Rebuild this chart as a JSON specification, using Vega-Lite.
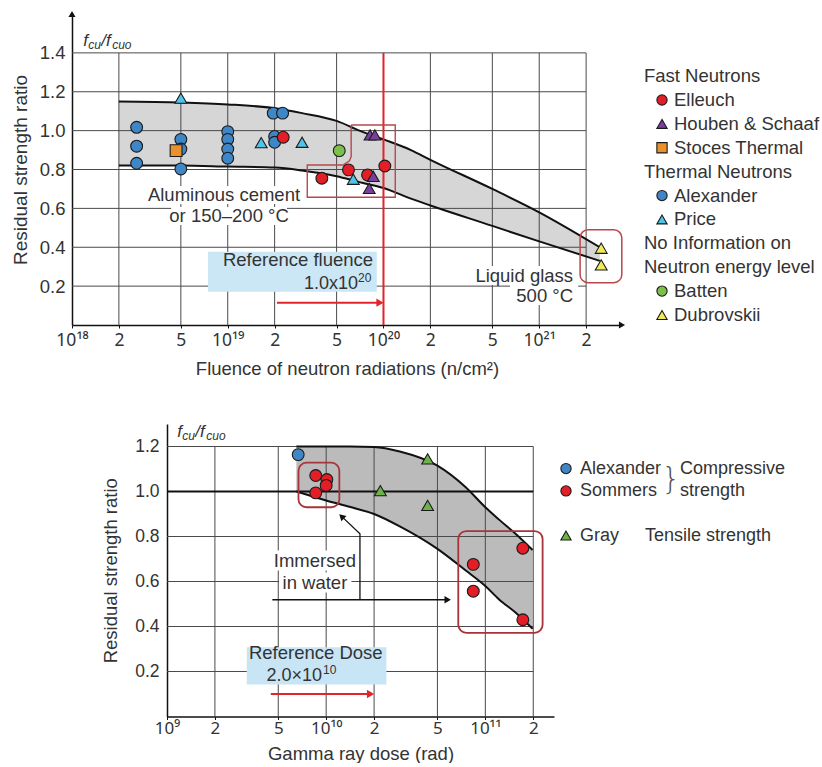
{
  "$schema": "https://vega.github.io/schema/vega-lite/v6.json",
  "padding": {"left": 11, "top": 10, "right": 0, "bottom": 0},
  "background": "white",
  "config": {"view": {"stroke": null}, "font": "Liberation Sans", "text": {"font": "Liberation Sans", "color": "#333"}},
  "resolve": {"scale": {"color": "independent", "shape": "independent"}},
  "spacing": 45,
  "datasets": {
    "top_band": [
      {"x": 2e18, "lo": 0.82, "hi": 1.15},
      {"x": 5e18, "lo": 0.82, "hi": 1.145},
      {"x": 1e19, "lo": 0.815, "hi": 1.135},
      {"x": 2e19, "lo": 0.81, "hi": 1.115},
      {"x": 3e19, "lo": 0.795, "hi": 1.09},
      {"x": 5e19, "lo": 0.765, "hi": 1.05},
      {"x": 7e19, "lo": 0.735, "hi": 1.0},
      {"x": 1e20, "lo": 0.705, "hi": 0.955},
      {"x": 1.5e20, "lo": 0.65, "hi": 0.9},
      {"x": 2e20, "lo": 0.615, "hi": 0.85},
      {"x": 5e20, "lo": 0.51, "hi": 0.7},
      {"x": 1e21, "lo": 0.43, "hi": 0.58},
      {"x": 2.45e21, "lo": 0.33, "hi": 0.4}
    ],
    "top_gx": [
      {"x": 2e18, "y": 0, "y2": 1.4}, {"x": 5e18, "y": 0, "y2": 1.4}, {"x": 1e19, "y": 0, "y2": 1.4},
      {"x": 2e19, "y": 0, "y2": 1.4}, {"x": 5e19, "y": 0, "y2": 1.4}, {"x": 1e20, "y": 0, "y2": 1.4},
      {"x": 2e20, "y": 0, "y2": 1.4}, {"x": 5e20, "y": 0, "y2": 1.4}, {"x": 1e21, "y": 0, "y2": 1.4},
      {"x": 2e21, "y": 0, "y2": 1.4}
    ],
    "top_gy": [
      {"y": 0.2, "x": 1e18, "x2": 2e21}, {"y": 0.4, "x": 1e18, "x2": 2e21}, {"y": 0.6, "x": 1e18, "x2": 2e21},
      {"y": 0.8, "x": 1e18, "x2": 2e21}, {"y": 1.0, "x": 1e18, "x2": 2e21}, {"y": 1.2, "x": 1e18, "x2": 2e21},
      {"y": 1.4, "x": 1e18, "x2": 2e21}
    ],
    "top_redline": [{"x": 1e20, "y": 0, "y2": 1.4}],
    "top_refbox": [{"x": 7.47e18, "x2": 9.06e19, "y": 0.171, "y2": 0.377}],
    "top_white": [
      {"x": 2.94e18, "x2": 3.09e19, "y": 0.623, "y2": 0.715},
      {"x": 4.33e18, "x2": 2.4e19, "y": 0.515, "y2": 0.607},
      {"x": 3.44e20, "x2": 1.78e21, "y": 0.206, "y2": 0.304},
      {"x": 6.5e20, "x2": 1.78e21, "y": 0.103, "y2": 0.206}
    ],
    "top_outline": [
      {"i": 0, "x": 6.2e19, "y": 1.029},
      {"i": 1, "x": 1.19e20, "y": 1.029},
      {"i": 2, "x": 1.19e20, "y": 0.657},
      {"i": 3, "x": 3.24e19, "y": 0.657},
      {"i": 4, "x": 3.24e19, "y": 0.823},
      {"i": 5, "x": 5.5e19, "y": 0.823},
      {"i": 6, "x": 6.05e19, "y": 0.845},
      {"i": 7, "x": 6.2e19, "y": 0.866},
      {"i": 8, "x": 6.2e19, "y": 1.029}
    ],
    "top_glassbox": [{"x": 1.83e21, "x2": 3.39e21, "y": 0.218, "y2": 0.49}],
    "top_text_c": [
      {"x": 9.46e18, "y": 0.669, "label": "Aluminous cement"},
      {"x": 1.02e19, "y": 0.561, "label": "or 150–200 °C"}
    ],
    "top_text_r": [
      {"x": 8.57e19, "y": 0.332, "label": "Reference fluence"},
      {"x": 1.65e21, "y": 0.252, "label": "Liquid glass"},
      {"x": 1.65e21, "y": 0.149, "label": "500 °C"}
    ],
    "top_sup": [{"x": 8.57e19, "y": 0.21, "base": "1.0x10", "sup": "20"}],
    "top_arrow": [{"x": 2.07e19, "y": 0.115}, {"x": 9.3e19, "y": 0.115}],
    "top_arrowhead": [{"x": 9.5e19, "y": 0.115}],
    "top_yarrow": [{"x": 1e18, "y": 1.6}],
    "top_xarrow": [{"x": 3.4e21, "y": 0}],
    "top_flabel": [{"x": 1.18e18, "y": 1.436}],
    "top_pts": [
      {"study": "Alexander", "x": 2.6e18, "y": 1.017},
      {"study": "Alexander", "x": 2.6e18, "y": 0.92},
      {"study": "Alexander", "x": 2.6e18, "y": 0.832},
      {"study": "Alexander", "x": 5e18, "y": 0.955},
      {"study": "Alexander", "x": 5e18, "y": 0.905},
      {"study": "Alexander", "x": 5e18, "y": 0.803},
      {"study": "Alexander", "x": 1e19, "y": 0.995},
      {"study": "Alexander", "x": 1e19, "y": 0.955},
      {"study": "Alexander", "x": 1e19, "y": 0.905},
      {"study": "Alexander", "x": 1e19, "y": 0.858},
      {"study": "Alexander", "x": 1.96e19, "y": 1.09},
      {"study": "Alexander", "x": 2.25e19, "y": 1.09},
      {"study": "Alexander", "x": 2e19, "y": 0.97},
      {"study": "Alexander", "x": 2e19, "y": 0.94},
      {"study": "Stoces Thermal", "x": 4.66e18, "y": 0.897},
      {"study": "Elleuch", "x": 2.27e19, "y": 0.966},
      {"study": "Elleuch", "x": 4.02e19, "y": 0.755},
      {"study": "Elleuch", "x": 5.96e19, "y": 0.798},
      {"study": "Elleuch", "x": 7.9e19, "y": 0.772},
      {"study": "Elleuch", "x": 1.02e20, "y": 0.818},
      {"study": "Price", "x": 5e18, "y": 1.167},
      {"study": "Price", "x": 1.64e19, "y": 0.938},
      {"study": "Price", "x": 3.0e19, "y": 0.94},
      {"study": "Price", "x": 6.4e19, "y": 0.75},
      {"study": "Houben & Schaaf", "x": 8.2e19, "y": 0.978},
      {"study": "Houben & Schaaf", "x": 8.8e19, "y": 0.978},
      {"study": "Houben & Schaaf", "x": 8.6e19, "y": 0.765},
      {"study": "Houben & Schaaf", "x": 8.1e19, "y": 0.703},
      {"study": "Batten", "x": 5.2e19, "y": 0.897},
      {"study": "Dubrovskii", "x": 2.5e21, "y": 0.395},
      {"study": "Dubrovskii", "x": 2.5e21, "y": 0.309}
    ],
    "top_legend": [
      {"row": 0, "level": 0, "label": "Fast Neutrons"},
      {"row": 1, "level": 1, "label": "Elleuch"},
      {"row": 2, "level": 1, "label": "Houben & Schaaf"},
      {"row": 3, "level": 1, "label": "Stoces Thermal"},
      {"row": 4, "level": 0, "label": "Thermal Neutrons"},
      {"row": 5, "level": 1, "label": "Alexander"},
      {"row": 6, "level": 1, "label": "Price"},
      {"row": 7, "level": 0, "label": "No Information on"},
      {"row": 8, "level": 0, "label": "Neutron energy level"},
      {"row": 9, "level": 1, "label": "Batten"},
      {"row": 10, "level": 1, "label": "Dubrovskii"}
    ],
    "bot_band": [
      {"x": 6.5e9, "lo": 1.0, "hi": 1.2},
      {"x": 1e10, "lo": 0.96, "hi": 1.2},
      {"x": 1.4e10, "lo": 0.932, "hi": 1.2},
      {"x": 2e10, "lo": 0.9, "hi": 1.198},
      {"x": 2.9e10, "lo": 0.845, "hi": 1.178},
      {"x": 5e10, "lo": 0.745, "hi": 1.115},
      {"x": 7.5e10, "lo": 0.65, "hi": 1.02},
      {"x": 1e11, "lo": 0.58, "hi": 0.93},
      {"x": 1.22e11, "lo": 0.52, "hi": 0.875},
      {"x": 1.56e11, "lo": 0.46, "hi": 0.81},
      {"x": 1.98e11, "lo": 0.39, "hi": 0.74}
    ],
    "bot_gx": [
      {"x": 2e9, "y": 0, "y2": 1.2}, {"x": 5e9, "y": 0, "y2": 1.2}, {"x": 1e10, "y": 0, "y2": 1.2},
      {"x": 2e10, "y": 0, "y2": 1.2}, {"x": 5e10, "y": 0, "y2": 1.2}, {"x": 1e11, "y": 0, "y2": 1.2},
      {"x": 2e11, "y": 0, "y2": 1.2}
    ],
    "bot_gy": [
      {"y": 0.2, "x": 1e9, "x2": 2e11}, {"y": 0.4, "x": 1e9, "x2": 2e11}, {"y": 0.6, "x": 1e9, "x2": 2e11},
      {"y": 0.8, "x": 1e9, "x2": 2e11}, {"y": 1.2, "x": 1e9, "x2": 2e11}
    ],
    "bot_ref": [{"y": 1.0, "x": 1e9, "x2": 2e11}],
    "bot_refbox": [{"x": 3.17e9, "x2": 2.39e10, "y": 0.142, "y2": 0.308}],
    "bot_white": [
      {"x": 4.57e9, "x2": 1.57e10, "y": 0.649, "y2": 0.738},
      {"x": 5.06e9, "x2": 1.44e10, "y": 0.551, "y2": 0.64}
    ],
    "bot_boxes": [
      {"x": 6.7e9, "x2": 1.21e10, "y": 0.93, "y2": 1.128},
      {"x": 6.76e10, "x2": 2.29e11, "y": 0.372, "y2": 0.824}
    ],
    "bot_arrow1": [
      {"i": 0, "x": 1.63e10, "y": 0.519},
      {"i": 1, "x": 1.63e10, "y": 0.812},
      {"i": 2, "x": 1.27e10, "y": 0.885}
    ],
    "bot_arrow2": [{"i": 0, "x": 4.59e9, "y": 0.519}, {"i": 1, "x": 5.6e10, "y": 0.519}],
    "bot_head1": [{"x": 1.25e10, "y": 0.889}],
    "bot_head2": [{"x": 5.8e10, "y": 0.519}],
    "bot_redarrow": [{"x": 4.49e9, "y": 0.1}, {"x": 1.85e10, "y": 0.1}],
    "bot_redhead": [{"x": 1.9e10, "y": 0.1}],
    "bot_text_c": [
      {"x": 8.5e9, "y": 0.689, "label": "Immersed"},
      {"x": 8.5e9, "y": 0.593, "label": "in water"},
      {"x": 8.6e9, "y": 0.282, "label": "Reference Dose"}
    ],
    "bot_sup": [{"x": 8.4e9, "y": 0.18, "base": "2.0×10", "sup": "10"}],
    "bot_flabel": [{"x": 1.16e9, "y": 1.241}],
    "bot_pts": [
      {"study": "Alexander", "x": 6.67e9, "y": 1.164},
      {"study": "Sommers", "x": 8.6e9, "y": 1.071},
      {"study": "Sommers", "x": 1.01e10, "y": 1.053},
      {"study": "Sommers", "x": 1.0e10, "y": 1.027},
      {"study": "Sommers", "x": 8.6e9, "y": 0.994},
      {"study": "Sommers", "x": 8.4e10, "y": 0.676},
      {"study": "Sommers", "x": 8.4e10, "y": 0.557},
      {"study": "Sommers", "x": 1.72e11, "y": 0.748},
      {"study": "Sommers", "x": 1.72e11, "y": 0.43},
      {"study": "Gray", "x": 2.19e10, "y": 1.004},
      {"study": "Gray", "x": 4.34e10, "y": 1.145},
      {"study": "Gray", "x": 4.34e10, "y": 0.938}
    ],
    "bot_legend": [
      {"row": 0, "label": "Alexander"},
      {"row": 1, "label": "Sommers"},
      {"row": 3, "label": "Gray"}
    ],
    "bot_brace": [{"row": 0.5, "label": "}"}],
    "bot_notes_c": [{"row": 0, "label": "Compressive"}, {"row": 1, "label": "strength"}],
    "bot_notes_t": [{"row": 3, "label": "Tensile strength"}]
  },
  "vconcat": [
    {
      "spacing": 18,
      "hconcat": [
        {
          "width": 550,
          "height": 311,
          "encoding": {
            "x": {
              "field": "x", "type": "quantitative",
              "scale": {"type": "log", "domain": [1e18, 3.4e21], "nice": false},
              "axis": {
                "title": "Fluence of neutron radiations (n/cm²)",
                "values": [1e18, 2e18, 5e18, 1e19, 2e19, 5e19, 1e20, 2e20, 5e20, 1e21, 2e21],
                "labelExpr": "datum.value == 1e18 ? '10¹⁸' : datum.value == 1e19 ? '10¹⁹' : datum.value == 1e20 ? '10²⁰' : datum.value == 1e21 ? '10²¹' : format(datum.value / pow(10, floor(log(datum.value) / LN10)), 'd')",
                "grid": false, "labelFlush": false, "labelOverlap": false,
                "domainColor": "#111", "domainWidth": 1.5,
                "ticks": true, "tickSize": 3, "tickColor": "#111",
                "labelFont": "Noto Sans", "labelFontSize": 17.5, "labelColor": "#333", "labelPadding": 3,
                "titleFontSize": 18.5, "titleFontWeight": "normal", "titleColor": "#333", "titlePadding": 11
              }
            },
            "y": {
              "field": "y", "type": "quantitative",
              "scale": {"domain": [0, 1.6], "nice": false, "zero": false},
              "axis": {
                "title": "Residual strength ratio",
                "values": [0.2, 0.4, 0.6, 0.8, 1.0, 1.2, 1.4],
                "format": ".1f", "grid": false, "ticks": false,
                "domainColor": "#111", "domainWidth": 1.5,
                "labelFontSize": 18.5, "labelColor": "#333", "labelPadding": 7,
                "titleFontSize": 19, "titleFontWeight": "normal", "titleColor": "#333", "titlePadding": 9
              }
            }
          },
          "layer": [
            {"data": {"name": "top_band"}, "mark": {"type": "area", "color": "#d6d6d6", "interpolate": "monotone"},
             "encoding": {"y": {"field": "lo", "type": "quantitative"}, "y2": {"field": "hi"}}},
            {"data": {"name": "top_gx"}, "mark": {"type": "rule", "color": "#4a4a4a", "strokeWidth": 1},
             "encoding": {"y2": {"field": "y2"}}},
            {"data": {"name": "top_gy"}, "mark": {"type": "rule", "color": "#4a4a4a", "strokeWidth": 1},
             "encoding": {"x2": {"field": "x2"}}},
            {"data": {"name": "top_refbox"}, "mark": {"type": "rect", "color": "#cbe6f5"},
             "encoding": {"x2": {"field": "x2"}, "y2": {"field": "y2"}}},
            {"data": {"name": "top_white"}, "mark": {"type": "rect", "color": "white"},
             "encoding": {"x2": {"field": "x2"}, "y2": {"field": "y2"}}},
            {"data": {"name": "top_band"}, "mark": {"type": "line", "color": "#111", "strokeWidth": 2, "interpolate": "monotone"},
             "encoding": {"y": {"field": "hi", "type": "quantitative"}}},
            {"data": {"name": "top_band"}, "mark": {"type": "line", "color": "#111", "strokeWidth": 2, "interpolate": "monotone"},
             "encoding": {"y": {"field": "lo", "type": "quantitative"}}},
            {"data": {"name": "top_redline"}, "mark": {"type": "rule", "color": "#e3242b", "strokeWidth": 2},
             "encoding": {"y2": {"field": "y2"}}},
            {"data": {"name": "top_outline"}, "mark": {"type": "line", "color": "#b8474c", "strokeWidth": 1.4},
             "encoding": {"order": {"field": "i"}}},
            {"data": {"name": "top_glassbox"}, "mark": {"type": "rect", "filled": false, "color": "#b8474c", "strokeWidth": 1.5, "cornerRadius": 8},
             "encoding": {"x2": {"field": "x2"}, "y2": {"field": "y2"}}},
            {"data": {"name": "top_text_c"}, "mark": {"type": "text", "fontSize": 18.5, "align": "center", "baseline": "middle", "color": "#333"},
             "encoding": {"text": {"field": "label"}}},
            {"data": {"name": "top_text_r"}, "mark": {"type": "text", "fontSize": 18.5, "align": "right", "baseline": "middle", "color": "#333"},
             "encoding": {"text": {"field": "label"}}},
            {"data": {"name": "top_sup"}, "mark": {"type": "text", "fontSize": 18, "align": "right", "baseline": "middle", "dx": -15, "color": "#333"},
             "encoding": {"text": {"field": "base"}}},
            {"data": {"name": "top_sup"}, "mark": {"type": "text", "fontSize": 12, "align": "left", "baseline": "middle", "dx": -15, "dy": -6, "color": "#333"},
             "encoding": {"text": {"field": "sup"}}},
            {"data": {"name": "top_arrow"}, "mark": {"type": "line", "color": "#e3242b", "strokeWidth": 2}, "encoding": {}},
            {"data": {"name": "top_arrowhead"}, "mark": {"type": "point", "shape": "triangle-right", "filled": true, "color": "#e3242b", "size": 70, "opacity": 1}, "encoding": {}},
            {"data": {"name": "top_yarrow"}, "mark": {"type": "point", "shape": "triangle-up", "filled": true, "color": "#111", "size": 50, "opacity": 1}, "encoding": {}},
            {"data": {"name": "top_xarrow"}, "mark": {"type": "point", "shape": "triangle-right", "filled": true, "color": "#111", "size": 50, "opacity": 1}, "encoding": {}},
            {"data": {"name": "top_flabel"}, "mark": {"type": "text", "fontSize": 17, "fontStyle": "italic", "align": "left", "baseline": "alphabetic", "color": "#333"}, "encoding": {"text": {"value": "f"}}},
            {"data": {"name": "top_flabel"}, "mark": {"type": "text", "fontSize": 12, "fontStyle": "italic", "align": "left", "baseline": "alphabetic", "dx": 5, "dy": 3, "color": "#333"}, "encoding": {"text": {"value": "cu"}}},
            {"data": {"name": "top_flabel"}, "mark": {"type": "text", "fontSize": 17, "fontStyle": "italic", "align": "left", "baseline": "alphabetic", "dx": 18, "color": "#333"}, "encoding": {"text": {"value": "/f"}}},
            {"data": {"name": "top_flabel"}, "mark": {"type": "text", "fontSize": 12, "fontStyle": "italic", "align": "left", "baseline": "alphabetic", "dx": 29, "dy": 3, "color": "#333"}, "encoding": {"text": {"value": "cuo"}}},
            {"data": {"name": "top_pts"}, "mark": {"type": "point", "filled": true, "stroke": "#1a1a1a", "strokeWidth": 1.1, "size": 140, "opacity": 1},
             "encoding": {
               "color": {"field": "study", "type": "nominal", "legend": null,
                 "scale": {"domain": ["Elleuch", "Houben & Schaaf", "Stoces Thermal", "Alexander", "Price", "Batten", "Dubrovskii"],
                           "range": ["#e41e26", "#7a3f9d", "#e8912d", "#3f86c6", "#4fc3e8", "#7cc04b", "#eeea5a"]}},
               "shape": {"field": "study", "type": "nominal", "legend": null,
                 "scale": {"domain": ["Elleuch", "Houben & Schaaf", "Stoces Thermal", "Alexander", "Price", "Batten", "Dubrovskii"],
                           "range": ["circle", "triangle-up", "square", "circle", "triangle-up", "circle", "triangle-up"]}}
             }}
          ]
        },
        {
          "width": 18,
          "height": 301,
          "data": {"name": "top_legend"},
          "encoding": {
            "x": {"field": "level", "type": "quantitative", "scale": {"domain": [0, 1], "nice": false, "zero": false}, "axis": null},
            "y": {"field": "row", "type": "quantitative", "scale": {"domain": [-2.6, 10], "reverse": true, "nice": false, "zero": false}, "axis": null}
          },
          "layer": [
            {"transform": [{"filter": "datum.level == 0"}], "mark": {"type": "text", "align": "left", "baseline": "middle", "fontSize": 18.5, "color": "#333"},
             "encoding": {"text": {"field": "label"}}},
            {"transform": [{"filter": "datum.level == 1"}], "mark": {"type": "point", "filled": true, "stroke": "#1a1a1a", "strokeWidth": 1.1, "size": 105, "opacity": 1},
             "encoding": {
               "color": {"field": "label", "type": "nominal", "legend": null,
                 "scale": {"domain": ["Elleuch", "Houben & Schaaf", "Stoces Thermal", "Alexander", "Price", "Batten", "Dubrovskii"],
                           "range": ["#e41e26", "#7a3f9d", "#e8912d", "#3f86c6", "#4fc3e8", "#7cc04b", "#eeea5a"]}},
               "shape": {"field": "label", "type": "nominal", "legend": null,
                 "scale": {"domain": ["Elleuch", "Houben & Schaaf", "Stoces Thermal", "Alexander", "Price", "Batten", "Dubrovskii"],
                           "range": ["circle", "triangle-up", "square", "circle", "triangle-up", "circle", "triangle-up"]}}
             }},
            {"transform": [{"filter": "datum.level == 1"}], "mark": {"type": "text", "align": "left", "baseline": "middle", "fontSize": 18.5, "dx": 12, "color": "#333"},
             "encoding": {"text": {"field": "label"}}}
          ]
        }
      ]
    },
    {
      "spacing": 4,
      "hconcat": [
        {"width": 25, "height": 10, "data": {"values": [{}]}, "mark": {"type": "text"}, "encoding": {"text": {"value": ""}}},
        {
          "width": 387,
          "height": 292.5,
          "encoding": {
            "x": {
              "field": "x", "type": "quantitative",
              "scale": {"type": "log", "domain": [1e9, 2.7e11], "nice": false},
              "axis": {
                "title": "Gamma ray dose (rad)",
                "values": [1e9, 2e9, 5e9, 1e10, 2e10, 5e10, 1e11, 2e11],
                "labelExpr": "datum.value == 1e9 ? '10⁹' : datum.value == 1e10 ? '10¹⁰' : datum.value == 1e11 ? '10¹¹' : format(datum.value / pow(10, floor(log(datum.value) / LN10)), 'd')",
                "grid": false, "labelFlush": false, "labelOverlap": false,
                "domainColor": "#111", "domainWidth": 1.5,
                "ticks": true, "tickSize": 3, "tickColor": "#111",
                "labelFont": "Noto Sans", "labelFontSize": 17, "labelColor": "#333", "labelPadding": 1,
                "titleFontSize": 18.5, "titleFontWeight": "normal", "titleColor": "#333", "titlePadding": 8
              }
            },
            "y": {
              "field": "y", "type": "quantitative",
              "scale": {"domain": [0, 1.3], "nice": false, "zero": false},
              "axis": {
                "title": "Residual strength ratio",
                "values": [0.2, 0.4, 0.6, 0.8, 1.0, 1.2],
                "format": ".1f", "grid": false, "ticks": false,
                "domainColor": "#111", "domainWidth": 1.5,
                "labelFontSize": 17.5, "labelColor": "#333", "labelPadding": 8,
                "titleFontSize": 18.5, "titleFontWeight": "normal", "titleColor": "#333", "titlePadding": 14
              }
            }
          },
          "layer": [
            {"data": {"name": "bot_band"}, "mark": {"type": "area", "color": "#bbbbbb", "interpolate": "monotone"},
             "encoding": {"y": {"field": "lo", "type": "quantitative"}, "y2": {"field": "hi"}}},
            {"data": {"name": "bot_gx"}, "mark": {"type": "rule", "color": "#4a4a4a", "strokeWidth": 1},
             "encoding": {"y2": {"field": "y2"}}},
            {"data": {"name": "bot_gy"}, "mark": {"type": "rule", "color": "#4a4a4a", "strokeWidth": 1},
             "encoding": {"x2": {"field": "x2"}}},
            {"data": {"name": "bot_ref"}, "mark": {"type": "rule", "color": "#111", "strokeWidth": 2},
             "encoding": {"x2": {"field": "x2"}}},
            {"data": {"name": "bot_refbox"}, "mark": {"type": "rect", "color": "#c8e5f5"},
             "encoding": {"x2": {"field": "x2"}, "y2": {"field": "y2"}}},
            {"data": {"name": "bot_white"}, "mark": {"type": "rect", "color": "white"},
             "encoding": {"x2": {"field": "x2"}, "y2": {"field": "y2"}}},
            {"data": {"name": "bot_band"}, "mark": {"type": "line", "color": "#111", "strokeWidth": 2, "interpolate": "monotone"},
             "encoding": {"y": {"field": "hi", "type": "quantitative"}}},
            {"data": {"name": "bot_band"}, "mark": {"type": "line", "color": "#111", "strokeWidth": 2, "interpolate": "monotone"},
             "encoding": {"y": {"field": "lo", "type": "quantitative"}}},
            {"data": {"name": "bot_boxes"}, "mark": {"type": "rect", "filled": false, "color": "#a8343a", "strokeWidth": 1.8, "cornerRadius": 8},
             "encoding": {"x2": {"field": "x2"}, "y2": {"field": "y2"}}},
            {"data": {"name": "bot_arrow1"}, "mark": {"type": "line", "color": "#111", "strokeWidth": 1.3}, "encoding": {"order": {"field": "i"}}},
            {"data": {"name": "bot_arrow2"}, "mark": {"type": "line", "color": "#111", "strokeWidth": 1.3}, "encoding": {"order": {"field": "i"}}},
            {"data": {"name": "bot_head1"}, "mark": {"type": "point", "shape": "triangle-up", "angle": -46, "filled": true, "color": "#111", "size": 55, "opacity": 1}, "encoding": {}},
            {"data": {"name": "bot_head2"}, "mark": {"type": "point", "shape": "triangle-right", "filled": true, "color": "#111", "size": 55, "opacity": 1}, "encoding": {}},
            {"data": {"name": "bot_redarrow"}, "mark": {"type": "line", "color": "#e3242b", "strokeWidth": 2}, "encoding": {}},
            {"data": {"name": "bot_redhead"}, "mark": {"type": "point", "shape": "triangle-right", "filled": true, "color": "#e3242b", "size": 70, "opacity": 1}, "encoding": {}},
            {"data": {"name": "bot_text_c"}, "mark": {"type": "text", "fontSize": 18.5, "align": "center", "baseline": "middle", "color": "#333"},
             "encoding": {"text": {"field": "label"}}},
            {"data": {"name": "bot_sup"}, "mark": {"type": "text", "fontSize": 18, "align": "right", "baseline": "middle", "dx": 8, "color": "#333"},
             "encoding": {"text": {"field": "base"}}},
            {"data": {"name": "bot_sup"}, "mark": {"type": "text", "fontSize": 12, "align": "left", "baseline": "middle", "dx": 9, "dy": -6, "color": "#333"},
             "encoding": {"text": {"field": "sup"}}},
            {"data": {"name": "bot_flabel"}, "mark": {"type": "text", "fontSize": 17, "fontStyle": "italic", "align": "left", "baseline": "alphabetic", "color": "#333"}, "encoding": {"text": {"value": "f"}}},
            {"data": {"name": "bot_flabel"}, "mark": {"type": "text", "fontSize": 12, "fontStyle": "italic", "align": "left", "baseline": "alphabetic", "dx": 5, "dy": 3, "color": "#333"}, "encoding": {"text": {"value": "cu"}}},
            {"data": {"name": "bot_flabel"}, "mark": {"type": "text", "fontSize": 17, "fontStyle": "italic", "align": "left", "baseline": "alphabetic", "dx": 18, "color": "#333"}, "encoding": {"text": {"value": "/f"}}},
            {"data": {"name": "bot_flabel"}, "mark": {"type": "text", "fontSize": 12, "fontStyle": "italic", "align": "left", "baseline": "alphabetic", "dx": 29, "dy": 3, "color": "#333"}, "encoding": {"text": {"value": "cuo"}}},
            {"data": {"name": "bot_pts"}, "mark": {"type": "point", "filled": true, "stroke": "#1a1a1a", "strokeWidth": 1.1, "size": 140, "opacity": 1},
             "encoding": {
               "color": {"field": "study", "type": "nominal", "legend": null,
                 "scale": {"domain": ["Alexander", "Sommers", "Gray"], "range": ["#3f86c6", "#e41e26", "#6db34a"]}},
               "shape": {"field": "study", "type": "nominal", "legend": null,
                 "scale": {"domain": ["Alexander", "Sommers", "Gray"], "range": ["circle", "circle", "triangle-up"]}}
             }}
          ]
        },
        {
          "width": 10,
          "height": 111.5,
          "encoding": {
            "x": {"datum": 0, "type": "quantitative", "scale": {"domain": [0, 1], "nice": false, "zero": false}, "axis": null},
            "y": {"field": "row", "type": "quantitative", "scale": {"domain": [-2, 3], "reverse": true, "nice": false, "zero": false}, "axis": null}
          },
          "layer": [
            {"data": {"name": "bot_legend"}, "mark": {"type": "point", "filled": true, "stroke": "#1a1a1a", "strokeWidth": 1.1, "size": 105, "opacity": 1},
             "encoding": {
               "color": {"field": "label", "type": "nominal", "legend": null,
                 "scale": {"domain": ["Alexander", "Sommers", "Gray"], "range": ["#3f86c6", "#e41e26", "#6db34a"]}},
               "shape": {"field": "label", "type": "nominal", "legend": null,
                 "scale": {"domain": ["Alexander", "Sommers", "Gray"], "range": ["circle", "circle", "triangle-up"]}}
             }},
            {"data": {"name": "bot_legend"}, "mark": {"type": "text", "align": "left", "baseline": "middle", "fontSize": 18, "dx": 14, "color": "#333"},
             "encoding": {"text": {"field": "label"}}},
            {"data": {"name": "bot_brace"}, "mark": {"type": "text", "align": "center", "baseline": "middle", "fontSize": 30, "dx": 105, "color": "#555", "font": "DejaVu Sans", "fontWeight": 200},
             "encoding": {"text": {"field": "label"}}},
            {"data": {"name": "bot_notes_c"}, "mark": {"type": "text", "align": "left", "baseline": "middle", "fontSize": 18, "dx": 114, "color": "#333"},
             "encoding": {"text": {"field": "label"}}},
            {"data": {"name": "bot_notes_t"}, "mark": {"type": "text", "align": "left", "baseline": "middle", "fontSize": 18, "dx": 79, "color": "#333"},
             "encoding": {"text": {"field": "label"}}}
          ]
        }
      ]
    }
  ]
}
